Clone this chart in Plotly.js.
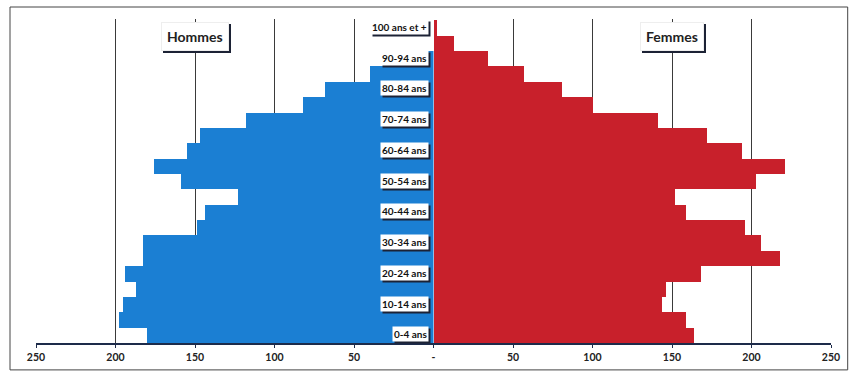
<!DOCTYPE html>
<html>
<head>
<meta charset="utf-8">
<script src="https://cdn.plot.ly/plotly-3.0.1.min.js"></script>
<style>
html,body{margin:0;padding:0;background:#fff;}
#chart{width:850px;height:371px;}
g.annotation rect.bg{filter:drop-shadow(2px 2px 0px #1c2235);}
</style>
</head>
<body>
<div id="chart"></div>
<script>
const categories = ["0-4 ans","5-9 ans","10-14 ans","15-19 ans","20-24 ans","25-29 ans","30-34 ans","35-39 ans","40-44 ans","45-49 ans","50-54 ans","55-59 ans","60-64 ans","65-69 ans","70-74 ans","75-79 ans","80-84 ans","85-89 ans","90-94 ans","95-99 ans","100 ans et +"];
const hommes = [180,198,195,187,194,183,183,149,144,123,159,176,155,147,118,82,68,40,7,0,0];
const femmes = [164,159,144,146,168,218,206,196,159,152,203,221,194,172,141,100,81,57,34,13,2];
const shownLabels = ["0-4 ans","10-14 ans","20-24 ans","30-34 ans","40-44 ans","50-54 ans","60-64 ans","70-74 ans","80-84 ans","90-94 ans","100 ans et +"];
const tickVals = [0,50,100,150,200,250];
const leftTickText = ["-","50","100","150","200","250"];
const rightTickText = ["","50","100","150","200","250"];
const seriesNames = ["Hommes","Femmes"];

const traces = [
  {type:'bar', orientation:'h', name:seriesNames[0], y:categories, x:hommes, xaxis:'x', yaxis:'y',
   marker:{color:'#1b7fd3', line:{width:0}}, hoverinfo:'x+y'},
  {type:'bar', orientation:'h', name:seriesNames[1], y:categories, x:femmes, xaxis:'x2', yaxis:'y',
   marker:{color:'#c8202b', line:{width:0}}, hoverinfo:'x+y'}
];

const tickFont = {family:'Lato, "Liberation Sans", sans-serif', size:10.5, color:'#222', weight:700};
const axisCommon = {showgrid:true, gridcolor:'#3a3a3a', gridwidth:1, zeroline:false,
  tickvals:tickVals, ticks:'outside', ticklen:3, tickcolor:'#1d2b4a', showline:true,
  linecolor:'#1d2b4a', linewidth:2, tickfont:tickFont, fixedrange:true};

const layout = {
  width:850, height:371,
  margin:{l:36, r:19, t:19, b:28},
  paper_bgcolor:'#fff', plot_bgcolor:'#fff',
  showlegend:false, bargap:0,
  xaxis:Object.assign({}, axisCommon, {domain:[0,0.5], range:[250,0], ticktext:leftTickText, anchor:'y'}),
  xaxis2:Object.assign({}, axisCommon, {domain:[0.5,1], range:[0,250], ticktext:rightTickText, anchor:'y'}),
  yaxis:{type:'category', categoryarray:categories, showticklabels:false, showgrid:false,
    zeroline:false, showline:false, ticks:'', anchor:'x', fixedrange:true},
  annotations:[],
  shapes:[
    {type:'rect', xref:'paper', yref:'paper', x0:-0.0327, x1:1.021, y0:-0.083, y1:1.037,
     line:{color:'#444', width:1}, fillcolor:'rgba(0,0,0,0)', layer:'below'}
  ]
};

// category labels (white boxes with drop shadow via CSS)
const labFont = {family:'Lato, "Liberation Sans", sans-serif', size:10, color:'#111', weight:700};
shownLabels.forEach(function(c){
  layout.annotations.push({xref:'x', yref:'y', x:0, y:c, text:c, showarrow:false,
    xanchor:'right', yanchor:'middle', xshift:-5, yshift:1,
    font:labFont, bgcolor:'#ffffff', borderpad:1});
});

// series title boxes centered on the 150 gridlines
const boxFont = {family:'Lato, "Liberation Sans", sans-serif', size:14, color:'#222', weight:700};
[[seriesNames[0],'x'],[seriesNames[1],'x2']].forEach(function(p){
  layout.annotations.push({xref:p[1], yref:'paper', x:150, y:0.946, text:p[0], showarrow:false,
    xanchor:'center', yanchor:'middle',
    font:boxFont, bgcolor:'#ffffff', borderpad:5, bordercolor:'#eeeeee', borderwidth:1});
});

Plotly.newPlot('chart', traces, layout, {displayModeBar:false, staticPlot:true});
</script>
</body>
</html>
